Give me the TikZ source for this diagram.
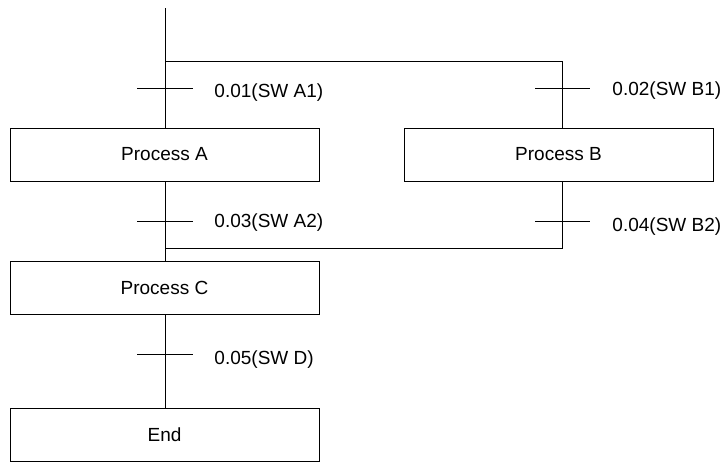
\documentclass[tikz,border=0pt]{standalone}
\usepackage{fontspec}
\setmainfont{Liberation Sans}
\begin{document}
\begin{tikzpicture}[x=1pt,y=-1pt,line width=0.9pt,
 box/.style={draw,minimum width=309pt,minimum height=53pt,inner sep=0pt,font=\fontsize{19}{22}\selectfont},
 lbl/.style={anchor=west,font=\fontsize{19}{22}\selectfont,inner sep=0pt}]
\useasboundingbox (0,0) rectangle (726,464);
\node[box] (A) at (164.5,154.5) {Process A};
\node[box] (B) at (558.5,154.5) {Process B};
\node[box] (C) at (164.5,287.5) {Process C};
\node[box] (E) at (164.5,435) {End};
\coordinate (top) at (165,8);
\coordinate (s1) at (165,61);
\coordinate (s2) at (562,61);
\coordinate (j1) at (165,248);
\coordinate (j2) at (562,248);
\draw (top) -- (165,128);
\draw (s1) -- (s2) -- (562,128);
\draw (165,181) -- (165,261);
\draw (562,181) -- (j2) -- (j1);
\draw (165,314) -- (165,408);
\draw (137,88) -- (193,88); \node[lbl] (l1) at (214,93) {0.01(SW A1)};
\draw (535,88) -- (590,88); \node[lbl] (l2) at (612,91) {0.02(SW B1)};
\draw (137,221) -- (193,221); \node[lbl] (l3) at (214,223) {0.03(SW A2)};
\draw (535,221) -- (590,221); \node[lbl] (l4) at (612,227) {0.04(SW B2)};
\draw (137,354) -- (193,354); \node[lbl] (l5) at (214,360) {0.05(SW D)};
\end{tikzpicture}
\end{document}
